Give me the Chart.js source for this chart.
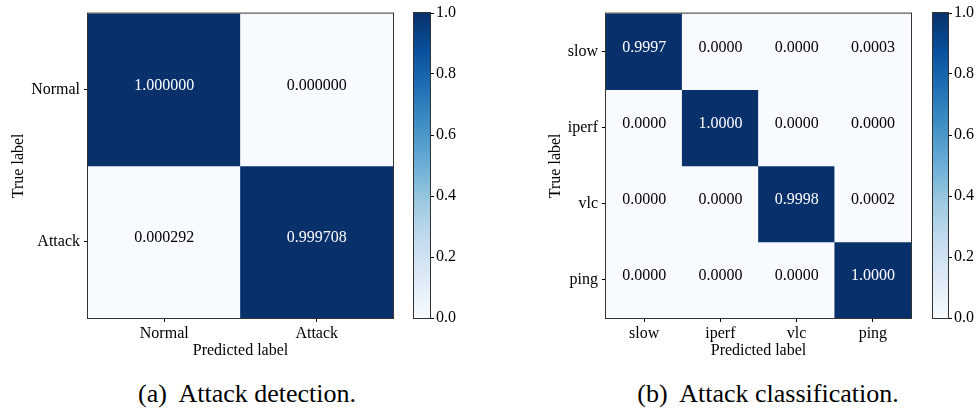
<!DOCTYPE html>
<html>
<head>
<meta charset="utf-8">
<script src="https://cdn.jsdelivr.net/npm/chart.js@4.4.1/dist/chart.umd.min.js"></script>
<style>
  body { margin: 0; background: #fff; }
  #page { position: relative; width: 979px; height: 408px; overflow: hidden; background: #fff; }
  .box { position: absolute; top: 0; }
  .caption {
    position: absolute; top: 379px; width: 400px; text-align: center;
    font-family: 'Liberation Serif', 'Times New Roman', Tinos; font-size: 26px; line-height: 30px;
    color: #000; white-space: pre;
  }
</style>
</head>
<body>
<div id="page">
  <div class="box" style="left:0px"><canvas id="detChart" width="400" height="362"></canvas></div>
  <div class="box" style="left:410px"><canvas id="detBar" width="60" height="332"></canvas></div>
  <div class="box" style="left:520px"><canvas id="clsChart" width="398" height="362"></canvas></div>
  <div class="box" style="left:929px"><canvas id="clsBar" width="50" height="332"></canvas></div>
  <div class="caption" style="left:47px">(a)  Attack detection.</div>
  <div class="caption" style="left:568px">(b)  Attack classification.</div>
</div>
<script>
// data
const detLabels = ['Normal', 'Attack'];
const detNormal = [1.000000, 0.000000];
const detAttack = [0.000292, 0.999708];

const clsLabels = ['slow', 'iperf', 'vlc', 'ping'];
const clsSlow  = [0.9997, 0.0000, 0.0000, 0.0003];
const clsIperf = [0.0000, 1.0000, 0.0000, 0.0000];
const clsVlc   = [0.0000, 0.0000, 0.9998, 0.0002];
const clsPing  = [0.0000, 0.0000, 0.0000, 1.0000];

const cbTicks = [0.0, 0.2, 0.4, 0.6, 0.8, 1.0];

// matplotlib "Blues"
const blues = ['#f7fbff', '#deebf7', '#c6dbef', '#9ecae1', '#6baed6', '#4292c6', '#2171b5', '#08519c', '#08306b'];

const FONT = "'Liberation Serif', 'Times New Roman', Tinos";
Chart.defaults.font.family = FONT;
Chart.defaults.font.size = 16;
Chart.defaults.color = '#000';

function hexToRgb(h) {
    return [parseInt(h.slice(1, 3), 16), parseInt(h.slice(3, 5), 16), parseInt(h.slice(5, 7), 16)];
}

function bluesColor(v) {
    const t = Math.max(0, Math.min(1, v)) * (blues.length - 1);
    const i = Math.min(Math.floor(t), blues.length - 2);
    const f = t - i;
    const a = hexToRgb(blues[i]), b = hexToRgb(blues[i + 1]);
    const c = a.map((x, k) => Math.round(x + (b[k] - x) * f));
    return `rgb(${c[0]},${c[1]},${c[2]})`;
}

// frame around the plot area (all four spines)
const framePlugin = {
    id: 'frame',
    afterDraw(chart) {
        const { ctx, chartArea: a } = chart;
        ctx.save();
        ctx.strokeStyle = '#333';
        ctx.lineWidth = 1;
        ctx.strokeRect(a.left - 0.5, a.top - 0.5, a.right - a.left + 1, a.bottom - a.top + 1);
        ctx.restore();
    }
};

// numbers written in the cells
const cellTextPlugin = {
    id: 'cellText',
    afterDatasetsDraw(chart, args, opts) {
        const { ctx } = chart;
        ctx.save();
        ctx.font = '16px ' + FONT;
        ctx.textAlign = 'center';
        ctx.textBaseline = 'middle';
        chart.data.datasets.forEach((ds, di) => {
            const meta = chart.getDatasetMeta(di);
            meta.data.forEach((el, j) => {
                const v = ds.values[j];
                const p = el.getCenterPoint();
                ctx.fillStyle = v > 0.5 ? '#fff' : '#000';
                ctx.fillText(v.toFixed(opts.digits), p.x, p.y - 4);
            });
        });
        ctx.restore();
    }
};

function matrixChart(id, labels, rows, digits, yWidth, titlePad) {
    const n = labels.length;
    const datasets = rows.map((vals, r) => ({
        values: vals,
        data: vals.map(() => [n - r - 1, n - r]),
        backgroundColor: vals.map(v => bluesColor(v)),
        borderWidth: 0,
        grouped: false,
        categoryPercentage: 1,
        barPercentage: 1
    }));
    return new Chart(document.getElementById(id), {
        type: 'bar',
        data: { labels: labels, datasets: datasets },
        options: {
            responsive: false,
            animation: false,
            layout: { padding: { top: 13, right: 7, left: 0, bottom: 0 } },
            plugins: {
                legend: { display: false },
                tooltip: { enabled: false },
                cellText: { digits: digits }
            },
            scales: {
                x: {
                    grid: { offset: false, drawOnChartArea: false, tickLength: 4, tickColor: '#000', lineWidth: 1 },
                    border: { display: false },
                    ticks: { padding: 2, maxRotation: 0 },
                    title: { display: true, text: 'Predicted label', padding: { top: 0, bottom: 2 } },
                    afterFit: (s) => { s.height = 44; }
                },
                y: {
                    min: 0,
                    max: n,
                    grid: { drawOnChartArea: false, tickLength: 4, tickColor: '#000', lineWidth: 1 },
                    border: { display: false },
                    afterBuildTicks: (s) => { s.ticks = labels.map((_, i) => ({ value: n - i - 0.5 })); },
                    ticks: {
                        padding: 4,
                        autoSkip: false,
                        callback: (v) => labels[Math.round(n - 0.5 - v)]
                    },
                    title: { display: true, text: 'True label', padding: { top: titlePad, bottom: 0 } },
                    afterFit: (s) => { s.width = yWidth; }
                }
            }
        },
        plugins: [framePlugin, cellTextPlugin]
    });
}

function colorBar(id, yWidth) {
    return new Chart(document.getElementById(id), {
        type: 'bar',
        data: {
            labels: [''],
            datasets: [{
                data: [[0, 1]],
                borderWidth: 0,
                categoryPercentage: 1,
                barPercentage: 1,
                backgroundColor: (c) => {
                    const a = c.chart.chartArea;
                    if (!a) return blues[4];
                    const g = c.chart.ctx.createLinearGradient(0, a.bottom, 0, a.top);
                    blues.forEach((col, i) => g.addColorStop(i / (blues.length - 1), col));
                    return g;
                }
            }]
        },
        options: {
            responsive: false,
            animation: false,
            layout: { padding: { top: 13, right: 0, left: 4, bottom: 14 } },
            plugins: { legend: { display: false }, tooltip: { enabled: false } },
            scales: {
                x: { display: false },
                y: {
                    position: 'right',
                    min: 0,
                    max: 1,
                    grid: { drawOnChartArea: false, tickLength: 4, tickColor: '#000', lineWidth: 1 },
                    border: { display: false },
                    afterBuildTicks: (s) => { s.ticks = cbTicks.map(v => ({ value: v })); },
                    ticks: { padding: 2, callback: (v) => v.toFixed(1) },
                    afterFit: (s) => { s.width = yWidth; }
                }
            }
        },
        plugins: [framePlugin]
    });
}

matrixChart('detChart', detLabels, [detNormal, detAttack], 6, 88, 9);
matrixChart('clsChart', clsLabels, [clsSlow, clsIperf, clsVlc, clsPing], 4, 86, 26);
colorBar('detBar', 40);
colorBar('clsBar', 31);
</script>
</body>
</html>
